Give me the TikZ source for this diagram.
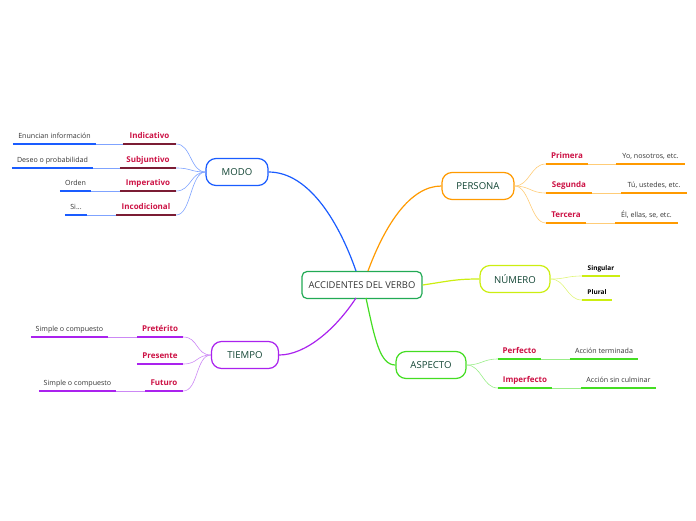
\documentclass[tikz,border=0pt]{standalone}
\usepackage{fontspec}
\setmainfont{Open Sans}
\usetikzlibrary{calc}
\definecolor{modoc}{HTML}{1A5CFF}
\definecolor{modol}{HTML}{7FA3FF}
\definecolor{maroon}{HTML}{7B1C34}
\definecolor{redlab}{HTML}{CC1144}
\definecolor{persc}{HTML}{FF9A00}
\definecolor{persl}{HTML}{FFCC77}
\definecolor{numc}{HTML}{CCEE11}
\definecolor{numl}{HTML}{E0F57A}
\definecolor{aspc}{HTML}{44DD22}
\definecolor{aspl}{HTML}{99EE88}
\definecolor{tiemc}{HTML}{AA22EE}
\definecolor{tieml}{HTML}{CC88F5}
\definecolor{centc}{HTML}{22AA55}
\definecolor{nodetxt}{HTML}{114433}
\definecolor{leaftxt}{HTML}{333333}
\tikzset{
  mainbox/.style={draw=#1, line width=1.2pt, rounded corners=10pt, minimum height=27pt, inner sep=0pt, fill=white, text=nodetxt, font=\fontsize{9.6}{11}\selectfont},
  centbox/.style={draw=centc, line width=1.2pt, rounded corners=5pt, minimum width=120pt, minimum height=27pt, inner sep=0pt, fill=white, text=leaftxt, font=\fontsize{9.4}{11}\selectfont},
  lab/.style={minimum width=#1, inner xsep=0pt, inner ysep=3.5pt, anchor=south, text height=6pt, text depth=1.8pt},
  redtxt/.style={text=redlab, font=\bfseries\fontsize{8}{9}\selectfont},
  leaft/.style={text=leaftxt, font=\fontsize{7.1}{8}\selectfont},
  numt/.style={text=black, font=\bfseries\fontsize{6.5}{8}\selectfont},
  ul/.style={draw=#1, line width=1.8pt},
  con/.style={draw=#1, line width=0.6pt},
  maincon/.style={draw=#1, line width=1.2pt},
}
\begin{document}
\begin{tikzpicture}[x=1pt,y=-1pt]
\useasboundingbox (0,0) rectangle (696,520);

\coordinate (cm) at (356,271);
\coordinate (cp) at (368,271);
\coordinate (ca) at (366,298);
\coordinate (ct) at (356,298);

% main nodes
\node[centbox] (c) at (362,285) {ACCIDENTES DEL VERBO};
\node[mainbox=modoc, minimum width=62pt] (modo) at (237,172) {MODO};
\node[mainbox=persc, minimum width=72pt] (pers) at (478,186) {PERSONA};
\node[mainbox=numc, minimum width=70pt] (num) at (515,279) {NÚMERO};
\node[mainbox=aspc, minimum width=70pt] (asp) at (431,365) {ASPECTO};
\node[mainbox=tiemc, minimum width=67pt] (tiem) at (245,355) {TIEMPO};

\draw[maincon=modoc] (cm) .. controls (340,225) and (310,172) .. (modo.east);
\draw[maincon=persc] (cp) .. controls (385,225) and (410,186) .. (pers.west);
\draw[maincon=numc] (c.east) .. controls (450,281) and (455,279) .. (num.west);
\draw[maincon=aspc] (ca) .. controls (375,340) and (380,365) .. (asp.west);
\draw[maincon=tiemc] (ct) .. controls (335,330) and (305,355) .. (tiem.east);

% MODO
\node[lab=53pt, redtxt] (ind) at (149.5,144) {Indicativo};
\node[lab=83pt, leaft] (indl) at (54.5,144) {Enuncian información};
\node[lab=56pt, redtxt] (sub) at (148,168) {Subjuntivo};
\node[lab=81pt, leaft] (subl) at (52.5,168) {Deseo o probabilidad};
\node[lab=56pt, redtxt] (imp) at (148,191) {Imperativo};
\node[lab=31pt, leaft] (impl) at (75.5,191) {Orden};
\node[lab=60pt, redtxt] (inc) at (146,215) {Incodicional};
\node[lab=22pt, leaft] (incl) at (76,215) {Si...};
\foreach \a/\b in {ind/indl, sub/subl, imp/impl, inc/incl}{
  \draw[con=modol] (modo.west) .. controls ($(modo.west)+(-15,0)$) and ($(\a.south east)+(15,0)$) .. (\a.south east);
  \draw[con=modol] (\a.south west) -- (\b.south east);
  \draw[ul=maroon] (\a.south west) -- (\a.south east);
  \draw[ul=modoc] (\b.south west) -- (\b.south east);
}

% TIEMPO
\node[lab=46pt, redtxt] (pre) at (160,337) {Pretérito};
\node[lab=77pt, leaft] (prel) at (69.5,337) {Simple o compuesto};
\node[lab=46pt, redtxt] (pres) at (160,364) {Presente};
\node[lab=38pt, redtxt] (fut) at (164,391) {Futuro};
\node[lab=77pt, leaft] (futl) at (77.5,391) {Simple o compuesto};
\foreach \a in {pre, pres, fut}{
  \draw[con=tieml] (tiem.west) .. controls ($(tiem.west)+(-15,0)$) and ($(\a.south east)+(15,0)$) .. (\a.south east);
  \draw[ul=tiemc] (\a.south west) -- (\a.south east);
}
\foreach \a/\b in {pre/prel, fut/futl}{
  \draw[con=tieml] (\a.south west) -- (\b.south east);
  \draw[ul=tiemc] (\b.south west) -- (\b.south east);
}

% PERSONA
\node[lab=42pt, redtxt] (pri) at (567,164) {Primera};
\node[lab=69pt, leaft] (pril) at (650.5,164) {Yo, nosotros, etc.};
\node[lab=46pt, redtxt] (seg) at (569,193) {Segunda};
\node[lab=66pt, leaft] (segl) at (654,193) {Tú, ustedes, etc.};
\node[lab=40pt, redtxt] (ter) at (566,223) {Tercera};
\node[lab=63pt, leaft] (terl) at (646.5,223) {Él, ellas, se, etc.};
\foreach \a/\b in {pri/pril, seg/segl, ter/terl}{
  \draw[con=persl] (pers.east) .. controls ($(pers.east)+(15,0)$) and ($(\a.south west)+(-15,0)$) .. (\a.south west);
  \draw[con=persl] (\a.south east) -- (\b.south west);
  \draw[ul=persc] (\a.south west) -- (\a.south east);
  \draw[ul=persc] (\b.south west) -- (\b.south east);
}

% NUMERO
\node[lab=38pt, numt] (sing) at (601,276) {Singular};
\node[lab=30pt, numt] (plu) at (597,300) {Plural};
\foreach \a in {sing, plu}{
  \draw[con=numl] (num.east) .. controls ($(num.east)+(15,0)$) and ($(\a.south west)+(-15,0)$) .. (\a.south west);
  \draw[ul=numc] (\a.south west) -- (\a.south east);
}

% ASPECTO
\node[lab=43pt, redtxt] (perf) at (519.5,359) {Perfecto};
\node[lab=68pt, leaft] (perfl) at (604,359) {Acción terminada};
\node[lab=54pt, redtxt] (impf) at (525,388) {Imperfecto};
\node[lab=75pt, leaft] (impfl) at (618.5,388) {Acción sin culminar};
\foreach \a/\b in {perf/perfl, impf/impfl}{
  \draw[con=aspl] (asp.east) .. controls ($(asp.east)+(15,0)$) and ($(\a.south west)+(-15,0)$) .. (\a.south west);
  \draw[con=aspl] (\a.south east) -- (\b.south west);
  \draw[ul=aspc] (\a.south west) -- (\a.south east);
  \draw[ul=aspc] (\b.south west) -- (\b.south east);
}
\end{tikzpicture}
\end{document}
